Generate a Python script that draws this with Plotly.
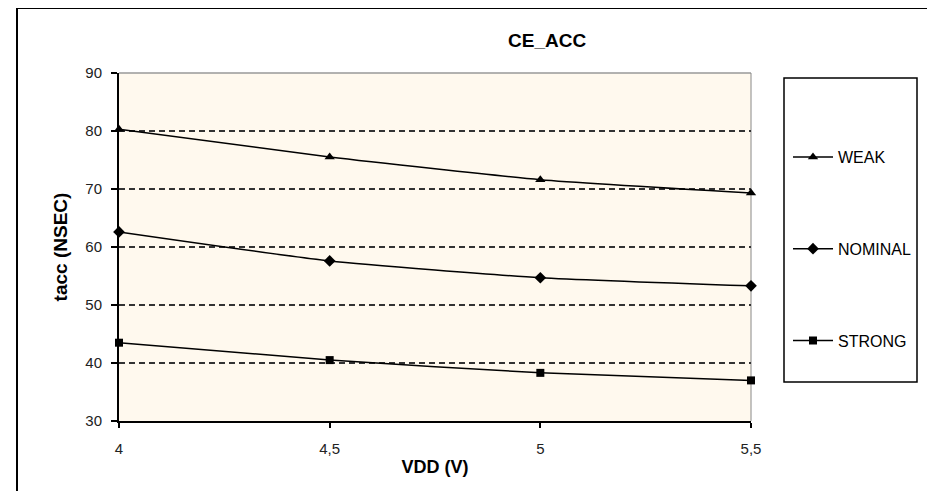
import plotly.graph_objects as go

# ---- data ----
vdd = [4.0, 4.5, 5.0, 5.5]
x_tick_labels = ["4", "4,5", "5", "5,5"]
y_ticks = [30, 40, 50, 60, 70, 80, 90]
weak = [80.3, 75.5, 71.6, 69.3]
nominal = [62.6, 57.6, 54.7, 53.3]
strong = [43.5, 40.5, 38.3, 37.0]

series = [
    ("WEAK", weak, "triangle-up", 9),
    ("NOMINAL", nominal, "diamond", 9),
    ("STRONG", strong, "square", 8),
]

fig = go.Figure()
for name, vals, sym, size in series:
    fig.add_trace(go.Scatter(
        x=vdd, y=vals, name=name, mode="lines+markers",
        line=dict(color="black", width=1.5, shape="spline", smoothing=0.5),
        marker=dict(symbol=sym, size=size, color="black"),
        legendgroup=name, cliponaxis=False,
    ))

W, H = 935, 491
OFF = 8  # page body margin
L, R, T, B = 119 - OFF, 751 - OFF, 73 - OFF, 421 - OFF

def px(x):
    return (x - OFF - L) / (R - L)

def py(y):
    return (B - (y - OFF)) / (B - T)

tick_font = dict(family="Liberation Sans, Arial", size=15, color="#222")
bold_font = dict(family="Liberation Sans, Arial", size=18, color="black")

fig.update_layout(
    width=W, height=H,
    margin=dict(l=L, r=W - R, t=T, b=H - B),
    paper_bgcolor="white",
    plot_bgcolor="#FFF9EE",
    showlegend=True,
    legend=dict(
        x=px(788), y=py(140), xanchor="left", yanchor="top",
        bgcolor="rgba(0,0,0,0)", borderwidth=0,
        font=dict(family="Liberation Sans, Arial", size=16, color="black"),
        tracegroupgap=68, itemwidth=40,
    ),
    xaxis=dict(
        range=[4, 5.5], tickvals=vdd, ticktext=x_tick_labels,
        showgrid=False, zeroline=False,
        showline=True, linecolor="black", linewidth=2,
        ticks="outside", ticklen=5, tickcolor="black", tickwidth=1.5,
        tickfont=tick_font, ticklabelstandoff=8,
        title=dict(text="<b>VDD (V)</b>", font=bold_font, standoff=4),
    ),
    yaxis=dict(
        range=[30, 90], tickvals=y_ticks,
        showgrid=True, gridcolor="#333", griddash="6px,4px", gridwidth=1.5,
        zeroline=False,
        showline=True, linecolor="black", linewidth=2,
        ticks="outside", ticklen=6, tickcolor="black", tickwidth=1.5,
        tickfont=tick_font, ticklabelstandoff=6,
        title=dict(text="<b>tacc (NSEC)</b>", font=dict(family="Liberation Sans, Arial", size=19, color="black"), standoff=13),
    ),
    shapes=[
        # plot area top/right border (gray)
        dict(type="line", xref="paper", yref="paper", x0=0, x1=1, y0=1, y1=1,
             line=dict(color="#999", width=1.5), layer="between"),
        dict(type="line", xref="paper", yref="paper", x0=1, x1=1, y0=0, y1=1,
             line=dict(color="#888", width=1), layer="between"),
        # legend box
        dict(type="rect", xref="paper", yref="paper",
             x0=px(784), x1=px(917), y0=py(382), y1=py(78),
             line=dict(color="black", width=1.5), fillcolor="rgba(0,0,0,0)"),
        # outer chart frame
        dict(type="rect", xref="paper", yref="paper",
             x0=px(17), x1=px(931), y0=py(500), y1=py(8),
             line=dict(color="black", width=2), fillcolor="rgba(0,0,0,0)"),
    ],
    annotations=[
        dict(text="<b>CE_ACC</b>", xref="paper", yref="paper",
             x=px(547), y=py(41), xanchor="center", yanchor="middle",
             showarrow=False, font=dict(family="Liberation Sans, Arial", size=19, color="black")),
    ],
)

fig.write_html("out.html")
